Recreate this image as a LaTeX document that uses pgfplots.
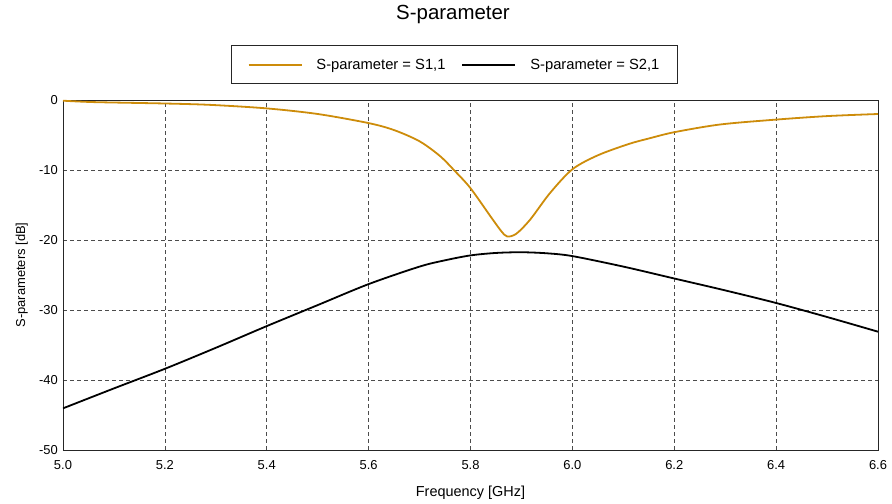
\documentclass[border=0pt]{standalone}
\usepackage{fontspec}
\setmainfont{Liberation Sans}
\usepackage{pgfplots}
\pgfplotsset{compat=1.18}
\definecolor{sone}{RGB}{205,140,10}

\begin{document}
\begin{tikzpicture}
\useasboundingbox (0,0) rectangle (892bp,504bp);
\begin{axis}[
  at={(63bp,54bp)}, anchor=south west,
  scale only axis, width=815bp, height=350bp,
  xmin=5.0, xmax=6.6, ymin=-50, ymax=0,
  xtick={5.0,5.2,...,6.6}, ytick={-50,-40,...,0},
  xticklabel style={/pgf/number format/fixed, /pgf/number format/fixed zerofill,
    /pgf/number format/precision=1, anchor=base, yshift=-19bp, inner sep=0pt},
  yticklabel style={anchor=east, xshift=-5bp, inner sep=0pt},
  /pgf/number format/assume math mode=true,
  tick label style={font=\fontsize{13}{15}\selectfont},
  major tick length=0pt,
  axis line style={black!85, line width=0.9bp},
  grid=major,
  major grid style={black!70, line width=0.7bp, dash pattern=on 4bp off 3bp},
  title={S-parameter},
  title style={font=\fontsize{20.5}{24}\selectfont, at={(axis description cs:0.4785,1)},
    anchor=base, yshift=75bp, inner sep=0pt},
  xlabel={Frequency [GHz]},
  xlabel style={font=\fontsize{14.5}{17}\selectfont, at={(axis description cs:0.5,0)},
    anchor=base, yshift=-46bp, inner sep=0pt},
  ylabel={S-parameters [dB]},
  ylabel style={font=\fontsize{13}{15}\selectfont, at={(axis description cs:-0.0466,0.5)},
    anchor=base, inner sep=0pt},
  legend columns=2,
  legend cell align=left,
  legend image code/.code={\draw[#1, line width=1.8bp] (0bp,0bp) -- (53bp,0bp);},
  legend style={at={(axis description cs:0.4804,1)}, anchor=south, yshift=16bp,
    draw=black!85, line width=0.8bp, font=\fontsize{14.8}{17}\selectfont,
    inner xsep=16bp, inner ysep=11bp,
    nodes={inner sep=2bp},
    /tikz/every even column/.append style={column sep=14bp},
    /tikz/every odd column/.append style={column sep=12bp}},
]
\addplot[sone, line width=1.8bp, smooth, tension=0.5] coordinates {
  (5.00,-0.1) (5.06,-0.3) (5.20,-0.5) (5.29,-0.7) (5.40,-1.2) (5.50,-2.0)
  (5.60,-3.3) (5.65,-4.3) (5.70,-5.9) (5.74,-8.0) (5.77,-10.2) (5.80,-12.6)
  (5.84,-16.7) (5.86,-18.7) (5.872,-19.5) (5.89,-19.1) (5.917,-17.1)
  (5.956,-13.3) (6.00,-9.9) (6.05,-7.9) (6.11,-6.3) (6.15,-5.5) (6.20,-4.6)
  (6.29,-3.5) (6.40,-2.8) (6.50,-2.3) (6.60,-2.0)};
\addlegendentry{S-parameter = S1,1}
\addplot[black, line width=1.8bp, smooth] coordinates {
  (5.00,-44.05) (5.10,-41.2) (5.20,-38.4) (5.30,-35.4) (5.40,-32.3)
  (5.50,-29.3) (5.60,-26.3) (5.70,-23.8) (5.75,-22.9) (5.80,-22.2)
  (5.85,-21.85) (5.90,-21.75) (5.95,-21.9) (6.00,-22.3) (6.10,-23.8)
  (6.20,-25.5) (6.30,-27.2) (6.40,-29.0) (6.50,-31.0) (6.60,-33.1)};
\addlegendentry{S-parameter = S2,1}
\end{axis}
\end{tikzpicture}
\end{document}
